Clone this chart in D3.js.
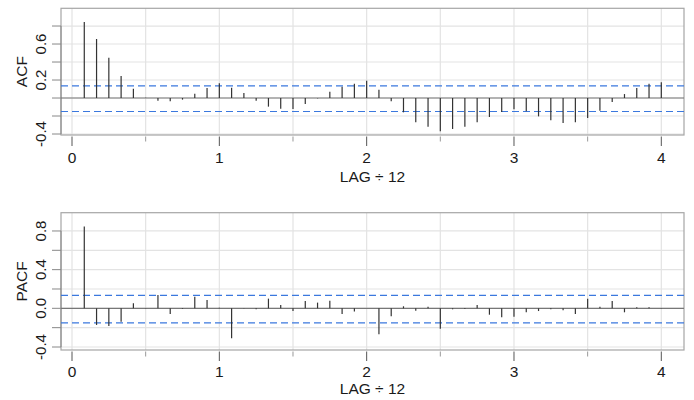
<!DOCTYPE html>
<html>
<head>
<meta charset="utf-8">
<script src="https://cdn.jsdelivr.net/npm/d3@7"></script>
<style>
  body { margin: 0; background: #fff; }
  text { font-family: "Liberation Sans", Arial, sans-serif; fill: #1a1a1a; }
</style>
</head>
<body>
<svg width="694" height="400"></svg>
<script>
// lags 1..48, plotted as LAG / 12
const lags = d3.range(1, 49);

const acfValues = [
  0.844, 0.656, 0.448, 0.244, 0.104, 0.004, -0.030, -0.037, -0.018, 0.048, 0.111, 0.163,
  0.115, 0.056, -0.030, -0.096, -0.119, -0.122, -0.067, -0.004, 0.070, 0.125, 0.159, 0.193,
  0.093, -0.037, -0.159, -0.270, -0.319, -0.370, -0.344, -0.319, -0.270, -0.211, -0.156, -0.126,
  -0.148, -0.204, -0.248, -0.278, -0.270, -0.222, -0.141, -0.044, 0.044, 0.111, 0.159, 0.174
];

const pacfValues = [
  0.845, -0.172, -0.183, -0.138, 0.052, 0.004, 0.138, -0.059, -0.007, 0.121, 0.086, 0.007,
  -0.310, -0.003, -0.010, 0.100, 0.034, -0.028, 0.076, 0.059, 0.079, -0.059, -0.034, 0.002,
  -0.269, -0.083, 0.021, -0.024, 0.017, -0.210, -0.010, -0.007, 0.034, -0.066, -0.093, -0.086,
  -0.041, -0.028, -0.010, -0.021, -0.059, 0.100, 0.017, 0.076, -0.041, 0.010, 0.010, 0.003
];

// confidence bounds (dashed blue)
const bounds = [0.134, -0.150];

const xTicks = d3.range(0, 4.01, 0.5);
const xLabels = [0, 1, 2, 3, 4];
const yTicks = d3.range(-0.4, 0.81, 0.2).map(d => Math.round(d * 10) / 10);
const acfTickLabels = [-0.4, 0.2, 0.6];
const pacfTickLabels = [-0.4, 0, 0.4, 0.8];

const svg = d3.select("svg");

const x = d3.scaleLinear()
  .domain([-0.0747, 4.154])
  .range([61, 684]);

function panel(values, name, yDomain, yRange, labels, titleY, tickLabelY) {
  const y = d3.scaleLinear().domain(yDomain).range(yRange);
  const g = svg.append("g");
  const top = yRange[1], bottom = yRange[0];

  // grid
  g.selectAll(".hgrid")
    .data(yTicks)
    .join("line")
    .attr("x1", 61).attr("x2", 684)
    .attr("y1", d => y(d)).attr("y2", d => y(d))
    .attr("stroke", "#e3e3e3")
    .attr("stroke-width", 1.2);

  g.selectAll(".vgrid")
    .data(xTicks)
    .join("line")
    .attr("x1", d => x(d)).attr("x2", d => x(d))
    .attr("y1", top).attr("y2", bottom)
    .attr("stroke", "#e3e3e3")
    .attr("stroke-width", 1.2);

  // box
  g.append("rect")
    .attr("x", 61).attr("y", top)
    .attr("width", 684 - 61).attr("height", bottom - top)
    .attr("fill", "none")
    .attr("stroke", "#a6a6a6")
    .attr("stroke-width", 1.2);

  // y axis
  g.append("line")
    .attr("x1", 61).attr("x2", 61)
    .attr("y1", y(-0.4)).attr("y2", y(0.8))
    .attr("stroke", "#888");
  g.selectAll(".ytick")
    .data(yTicks)
    .join("line")
    .attr("x1", 52).attr("x2", 61)
    .attr("y1", d => y(d)).attr("y2", d => y(d))
    .attr("stroke", "#888");
  g.selectAll(".ylab")
    .data(labels)
    .join("text")
    .attr("transform", d => `translate(46,${y(d)}) rotate(-90)`)
    .attr("text-anchor", "middle")
    .style("font-size", "15px")
    .text(d => d3.format(".1f")(d).replace("−", "-"));

  g.append("text")
    .attr("transform", `translate(26.5,${(top + bottom) / 2}) rotate(-90)`)
    .attr("text-anchor", "middle")
    .style("font-size", "15.5px")
    .text(name);

  // x axis ticks
  g.selectAll(".xtick")
    .data(xTicks)
    .join("line")
    .attr("x1", d => x(d)).attr("x2", d => x(d))
    .attr("y1", bottom + 1.5)
    .attr("y2", d => Number.isInteger(d) ? bottom + 11 : bottom + 6.5)
    .attr("stroke", d => Number.isInteger(d) ? "#555" : "#999");
  g.selectAll(".xlab")
    .data(xLabels)
    .join("text")
    .attr("x", d => x(d))
    .attr("y", tickLabelY)
    .attr("text-anchor", "middle")
    .style("font-size", "15.5px")
    .text(d => d);

  g.append("text")
    .attr("x", 372.5)
    .attr("y", titleY)
    .attr("text-anchor", "middle")
    .style("font-size", "15.5px")
    .text("LAG ÷ 12");

  // zero line and bounds
  g.append("line")
    .attr("x1", 61).attr("x2", 684)
    .attr("y1", y(0)).attr("y2", y(0))
    .attr("stroke", "#777")
    .attr("stroke-width", 1.2);

  g.selectAll(".bound")
    .data(bounds)
    .join("line")
    .attr("x1", 61).attr("x2", 684)
    .attr("y1", d => y(d)).attr("y2", d => y(d))
    .attr("stroke", "#3b78de")
    .attr("stroke-width", 1.2)
    .attr("stroke-dasharray", "7,4");

  // spikes
  g.selectAll(".spike")
    .data(values)
    .join("line")
    .attr("x1", (d, i) => x(lags[i] / 12))
    .attr("x2", (d, i) => x(lags[i] / 12))
    .attr("y1", y(0))
    .attr("y2", d => y(d))
    .attr("stroke", "#333")
    .attr("stroke-width", 1.2);
}

panel(acfValues, "ACF", [-0.411, 0.997], [135, 8.3], acfTickLabels, 182.3, 162.7);
panel(pacfValues, "PACF", [-0.431, 0.989], [350, 212.7], pacfTickLabels, 394.3, 377);
</script>
</body>
</html>
